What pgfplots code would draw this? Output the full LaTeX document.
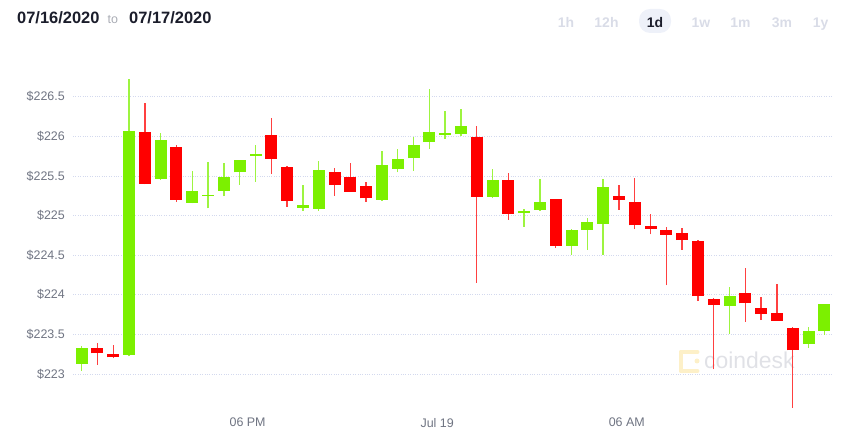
\documentclass[border=0pt]{standalone}
\usepackage{fontspec}
\setmainfont{Liberation Sans}
\usepackage{pgfplots}
\pgfplotsset{compat=1.18}
\usepackage{pgfplotstable}
\definecolor{cgreen}{HTML}{7CF000}
\definecolor{cred}{HTML}{FF0000}
\definecolor{gridc}{HTML}{D3D9EE}
\definecolor{labc}{HTML}{6F7482}
\definecolor{hdr}{HTML}{1B1D2B}
\definecolor{btn}{HTML}{D9DCE7}
\definecolor{pill}{HTML}{EEF1F9}
\definecolor{wm}{HTML}{E0E1E6}
\definecolor{wmy}{HTML}{FDF0C8}

\pgfplotstableread{
i o h l c
0 223.126 223.349 223.042 223.324
3 223.240 226.727 223.223 226.067
5 225.462 226.046 225.450 225.950
7 225.164 225.559 225.155 225.311
8 225.245 225.672 225.092 225.262
9 225.311 225.660 225.244 225.492
10 225.546 225.706 225.387 225.706
11 225.756 225.887 225.429 225.780
14 225.097 225.382 225.059 225.130
15 225.088 225.693 225.059 225.571
19 225.202 225.811 225.185 225.643
20 225.592 225.845 225.546 225.718
21 225.723 225.996 225.567 225.895
22 225.929 226.592 225.845 226.059
23 226.021 226.315 225.966 226.046
24 226.029 226.349 226.004 226.126
26 225.235 225.592 225.218 225.450
28 225.034 225.088 224.857 225.063
29 225.071 225.458 225.059 225.168
31 224.618 224.836 224.500 224.824
32 224.819 224.975 224.567 224.924
33 224.895 225.466 224.508 225.357
41 223.860 224.103 223.499 223.986
46 223.378 223.591 223.327 223.545
47 223.541 223.885 223.495 223.885
}\greendata

\pgfplotstableread{
i o h l c
1 223.328 223.390 223.118 223.260
2 223.248 223.366 223.197 223.210
4 226.059 226.416 225.395 225.403
6 225.870 225.895 225.172 225.197
12 226.017 226.235 225.525 225.718
13 225.618 225.620 225.109 225.189
16 225.550 225.605 225.248 225.387
17 225.483 225.668 225.300 225.303
18 225.374 225.420 225.176 225.218
25 225.987 226.130 224.155 225.239
27 225.454 225.542 224.945 225.021
30 225.210 225.210 224.592 224.622
34 225.248 225.390 225.071 225.197
35 225.176 225.475 224.828 224.878
36 224.871 225.018 224.762 224.833
37 224.812 224.862 224.120 224.758
38 224.774 224.837 224.569 224.690
39 224.682 224.695 223.919 223.982
40 223.944 223.965 223.059 223.868
42 224.019 224.338 223.659 223.893
43 223.835 223.977 223.680 223.755
44 223.772 224.141 223.671 223.675
45 223.583 223.596 222.572 223.298
}\reddata

\begin{document}
\begin{tikzpicture}[x=1bp,y=1bp]
\path[use as bounding box] (0,0) rectangle (858,443);
% header
\node[anchor=base west, inner sep=0pt, text=hdr, font=\fontsize{16.5}{19}\selectfont\bfseries] at (17,419) {07/16/2020};
\node[anchor=base west, inner sep=0pt, text=labc!60, font=\fontsize{12.5}{14}\selectfont] at (107.5,419) {to};
\node[anchor=base west, inner sep=0pt, text=hdr, font=\fontsize{16.5}{19}\selectfont\bfseries] at (129,419) {07/17/2020};
\fill[pill, rounded corners=11] (639,410) rectangle (671,434);
\foreach \xx/\tt in {566/1h, 606.5/12h, 701/1w, 740.5/1m, 782/3m, 820.5/1y}
  \node[anchor=base, inner sep=0pt, text=btn, font=\fontsize{14}{16}\selectfont\bfseries] at (\xx,415) {\tt};
\node[anchor=base, inner sep=0pt, text=hdr, font=\fontsize{14}{16}\selectfont\bfseries] at (655,415) {1d};
% watermark
\draw[wmy, line width=5, line cap=round, line join=round] (697,91) -- (681,91) -- (681,72) -- (697,72);
\fill[wmy] (697,82) circle (2.5);
\node[anchor=base west, inner sep=0pt, text=wm, font=\fontsize{23}{26}\selectfont] at (704,74) {coindesk};
\begin{axis}[
  at={(73bp,29.4bp)}, anchor=south west,
  scale only axis, width=760bp, height=340.56bp,
  xmin=-0.55, xmax=47.55, ymin=222.5, ymax=226.8,
  axis line style={draw=none},
  tick style={draw=none},
  ymajorgrids,
  grid style={dotted, line width=0.9bp, color=gridc},
  ytick={223,223.5,224,224.5,225,225.5,226,226.5},
  yticklabels={\$223,\$223.5,\$224,\$224.5,\$225,\$225.5,\$226,\$226.5},
  yticklabel style={anchor=east, inner sep=0pt, xshift=-8bp, text=labc, font=\fontsize{12.5}{14}\selectfont},
  xtick={10.5,22.5,34.5},
  xticklabels={06 PM, Jul 19, 06 AM},
  xticklabel style={anchor=north, inner sep=0pt, yshift=-4.4bp, text=labc, font=\fontsize{12.5}{14}\selectfont},
  clip=false,
]
% wicks
\addplot[draw=none, mark=none, forget plot, error bars/.cd, y dir=plus, y explicit, error mark=none,
  error bar style={draw=cgreen!75!white, line width=1.3bp}]
  table[x=i, y=l, y error plus expr=\thisrow{h}-\thisrow{l}] {\greendata};
\addplot[draw=none, mark=none, forget plot, error bars/.cd, y dir=plus, y explicit, error mark=none,
  error bar style={draw=cred!75!white, line width=1.3bp}]
  table[x=i, y=l, y error plus expr=\thisrow{h}-\thisrow{l}] {\reddata};
% bodies
\addplot[draw=none, mark=none, forget plot, error bars/.cd, y dir=plus, y explicit, error mark=none,
  error bar style={draw=cgreen, line width=12bp}]
  table[x=i, y=o, y error plus expr=\thisrow{c}-\thisrow{o}] {\greendata};
\addplot[draw=none, mark=none, forget plot, error bars/.cd, y dir=plus, y explicit, error mark=none,
  error bar style={draw=cred, line width=12bp}]
  table[x=i, y=c, y error plus expr=\thisrow{o}-\thisrow{c}] {\reddata};
\end{axis}
\end{tikzpicture}
\end{document}
